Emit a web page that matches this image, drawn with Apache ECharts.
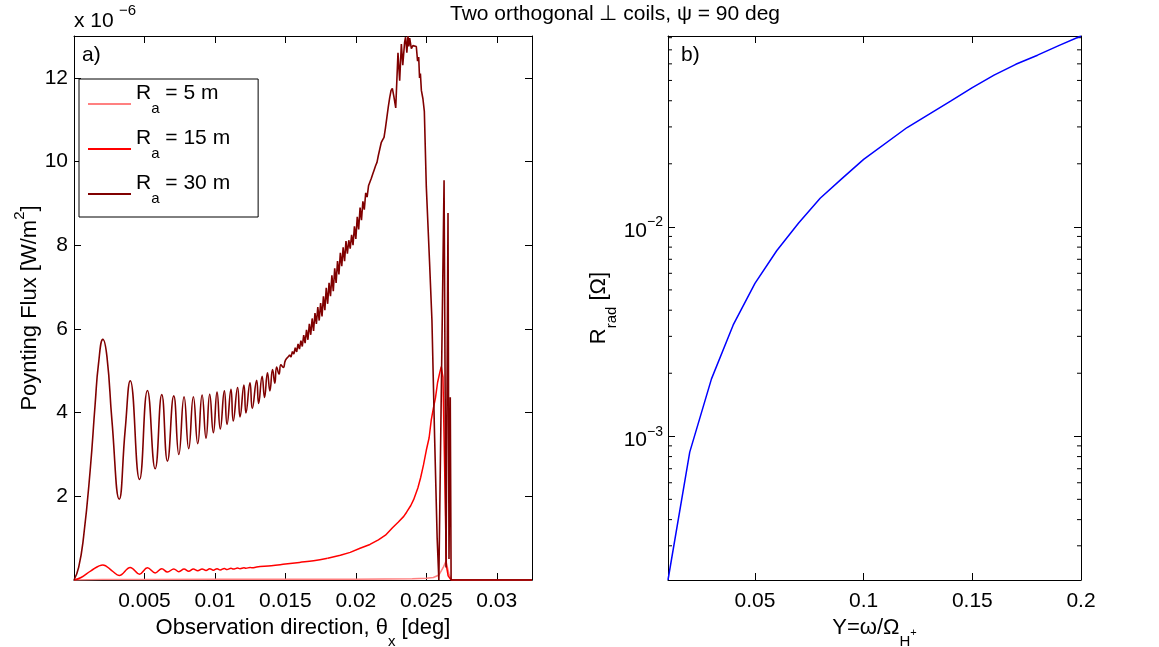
<!DOCTYPE html>
<html><head><meta charset="utf-8">
<script src="https://cdn.jsdelivr.net/npm/echarts@6/dist/echarts.min.js"></script>
<style>html,body{margin:0;padding:0;background:#fff}#c{width:1159px;height:647px}</style>
</head><body><div id="c"></div><script>
const FONT = '"Liberation Sans", Arial, Helvetica, sans-serif';

// ---- panel a) Poynting flux (units of 1e-6 W/m^2) vs observation direction (deg)
const theta30A = [0, 0.00033, 0.00068, 0.00115, 0.0015, 0.00174, 0.00205, 0.00234, 0.00269, 0.00321, 0.00363, 0.00399, 0.00465, 0.00521, 0.00576, 0.00623, 0.00663, 0.00708, 0.00744, 0.00781, 0.00814, 0.00847, 0.00878, 0.00909, 0.00937, 0.00963, 0.00989, 0.01015, 0.01038, 0.01067, 0.01086, 0.01114, 0.0113, 0.01161, 0.01178, 0.01206, 0.0122, 0.01249, 0.01265, 0.01296, 0.0131, 0.01335, 0.01352, 0.01373, 0.0139, 0.01409, 0.01425, 0.01438, 0.01455, 0.01468, 0.01485, 0.015, 0.0152];
const flux30A = [0, 0.3, 1.03, 2.63, 4.2, 5.17, 5.75, 5.33, 3.82, 1.93, 3.58, 4.76, 2.40, 4.53, 2.66, 4.43, 2.84, 4.40, 3.00, 4.38, 3.14, 4.38, 3.26, 4.42, 3.39, 4.44, 3.52, 4.49, 3.61, 4.52, 3.72, 4.56, 3.80, 4.60, 3.90, 4.66, 3.99, 4.71, 4.10, 4.77, 4.22, 4.87, 4.36, 4.95, 4.52, 5.03, 4.70, 5.09, 4.92, 5.14, 5.08, 5.25, 5.33];

const theta30B = [0.0152, 0.0153, 0.0154, 0.0155, 0.0156, 0.0157, 0.0158, 0.0159, 0.0160, 0.0161, 0.0162, 0.0163, 0.0164, 0.0165, 0.0166, 0.0167, 0.0168, 0.0169, 0.0170, 0.0171, 0.0172, 0.0173, 0.0174, 0.0175, 0.0176, 0.0177, 0.0178, 0.0179, 0.0180, 0.0181, 0.0182, 0.0183, 0.0184, 0.0185, 0.0186, 0.0187, 0.0188, 0.0189, 0.0190, 0.0191, 0.0192, 0.0193, 0.0194, 0.0195, 0.0196, 0.0197, 0.0198, 0.0199, 0.0200, 0.0201, 0.0202, 0.0203, 0.0204, 0.0205, 0.0206, 0.0207, 0.0208, 0.0209, 0.0210, 0.0211, 0.0212, 0.0213, 0.0214, 0.0215, 0.0216, 0.0217, 0.0218, 0.0219, 0.0220, 0.0221, 0.0222, 0.0223, 0.0224, 0.0225, 0.02259, 0.0227, 0.02283, 0.02299, 0.02311, 0.02323, 0.02333, 0.02346, 0.02353, 0.02362, 0.0237, 0.02376, 0.02382, 0.02394, 0.02405, 0.02418, 0.02429, 0.02438, 0.02446, 0.02452, 0.02458, 0.02465, 0.02476, 0.02486, 0.025, 0.02523, 0.0254, 0.02559, 0.02577, 0.02589, 0.02626, 0.0264, 0.02654, 0.02661, 0.0267, 0.02676, 0.0325];
const flux30B = [5.33, 5.38, 5.33, 5.46, 5.40, 5.55, 5.45, 5.64, 5.52, 5.72, 5.58, 5.85, 5.66, 5.98, 5.74, 6.12, 5.86, 6.25, 5.95, 6.38, 6.12, 6.52, 6.20, 6.62, 6.30, 6.78, 6.45, 6.98, 6.60, 7.10, 6.78, 7.28, 6.90, 7.45, 7.10, 7.62, 7.30, 7.82, 7.50, 7.95, 7.62, 8.10, 7.80, 8.12, 7.92, 8.25, 8.00, 8.45, 8.15, 8.68, 8.38, 8.90, 8.60, 9.05, 8.85, 9.25, 9.15, 9.42, 9.40, 9.60, 9.70, 9.80, 9.90, 9.98, 10.15, 10.30, 10.45, 10.52, 10.58, 10.80, 11.05, 11.30, 11.52, 11.70, 11.75, 11.55, 11.28, 12.6, 11.93, 12.81, 12.3, 12.85, 12.97, 12.6, 13.0, 12.75, 12.95, 12.7, 12.77, 12.75, 12.75, 12.4, 12.5, 12.0, 12.1, 11.7, 11.5, 11.2, 9.4, 7.6, 6.2, 3.4, 1.0, 0, 9.55, 0.3, 8.77, 0.5, 4.37, 0, 0];

const theta15A = [0, 0.0005, 0.0012, 0.00205, 0.0027, 0.00321, 0.00399, 0.00465, 0.00521, 0.00576, 0.00623, 0.00663, 0.00708, 0.00744, 0.00781, 0.00814, 0.00847, 0.00878, 0.00909, 0.00937, 0.00963, 0.00989, 0.01015, 0.01038, 0.01067, 0.01086, 0.01114, 0.0113, 0.01161, 0.01178, 0.01206, 0.0122, 0.01249, 0.01265, 0.01296, 0.014, 0.015, 0.016, 0.017, 0.018];
const flux15A = [0, 0.06, 0.22, 0.36, 0.22, 0.11, 0.30, 0.14, 0.29, 0.17, 0.27, 0.19, 0.265, 0.20, 0.26, 0.21, 0.26, 0.22, 0.265, 0.23, 0.27, 0.235, 0.27, 0.24, 0.275, 0.25, 0.28, 0.26, 0.285, 0.27, 0.29, 0.28, 0.30, 0.29, 0.31, 0.34, 0.38, 0.42, 0.46, 0.52];
const theta15B = [0.018, 0.0189, 0.0196, 0.0203, 0.021, 0.0216, 0.0221, 0.0226, 0.023, 0.0234, 0.0236, 0.0239, 0.0241, 0.0244, 0.0246, 0.0248, 0.0250, 0.0252, 0.02535, 0.0255, 0.02565, 0.0258, 0.02595, 0.02606, 0.02618, 0.0263, 0.02642, 0.02655, 0.02676, 0.0325];
const flux15B = [0.52, 0.59, 0.66, 0.76, 0.85, 0.96, 1.07, 1.25, 1.38, 1.52, 1.62, 1.78, 1.92, 2.2, 2.45, 2.75, 3.1, 3.4, 3.82, 4.1, 4.35, 4.72, 4.95, 5.1, 4.85, 2.7, 0.35, 0.1, 0, 0];

const theta5 = [0, 0.002, 0.005, 0.01, 0.015, 0.02, 0.022, 0.024, 0.025, 0.0255, 0.0259, 0.0262, 0.0264, 0.0266, 0.0268, 0.0325];
const flux5 = [0, 0.01, 0.01, 0.015, 0.02, 0.02, 0.025, 0.03, 0.04, 0.06, 0.12, 0.3, 0.45, 0.15, 0, 0];

const legendNames = ['R_a = 5 m', 'R_a = 15 m', 'R_a = 30 m'];
const xTicksA = [0.005, 0.01, 0.015, 0.02, 0.025, 0.03];
const yTicksA = [2, 4, 6, 8, 10, 12];

// ---- panel b) radiation resistance vs normalised frequency
const freqY = [0.01, 0.02, 0.03, 0.04, 0.05, 0.06, 0.07, 0.08, 0.09, 0.1, 0.12, 0.14, 0.15, 0.16, 0.17, 0.18, 0.19, 0.2];
const rRad = [2.06e-4, 8.4e-4, 1.88e-3, 3.4e-3, 5.37e-3, 7.69e-3, 1.04e-2, 1.37e-2, 1.70e-2, 2.10e-2, 2.98e-2, 3.98e-2, 4.62e-2, 5.3e-2, 5.97e-2, 6.6e-2, 7.35e-2, 8.15e-2];
const xTicksB = [0.05, 0.1, 0.15, 0.2];
const yTicksB = [0.001, 0.01];
const minorTicksB = [3e-4, 4e-4, 5e-4, 6e-4, 7e-4, 8e-4, 9e-4, 2e-3, 3e-3, 4e-3, 5e-3, 6e-3, 7e-3, 8e-3, 9e-3, 2e-2, 3e-2, 4e-2, 5e-2, 6e-2, 7e-2, 8e-2];

const zip = (a, b) => a.map((v, i) => [v, b[i]]);
const black = '#000';
const C5 = '#ff8080', C15 = '#ff0000', C30 = '#800000', CB = '#0000ff';

const rich = {
  m: {fontSize: 22, fontFamily: FONT, color: black, lineHeight: 25, verticalAlign: 'top'},
  n: {fontSize: 22, fontFamily: FONT, color: black, lineHeight: 25, verticalAlign: 'top', padding: [6, 0, 0, 0]},
  s: {fontSize: 15, fontFamily: FONT, color: black, lineHeight: 15, verticalAlign: 'top', padding: [17, 0, 0, 0]},
  t: {fontSize: 11, fontFamily: FONT, color: black, lineHeight: 11, verticalAlign: 'top', padding: [11, 0, 0, 0]},
  p: {fontSize: 15, fontFamily: FONT, color: black, lineHeight: 15, verticalAlign: 'top'}
};
const tickLabelRich = {
  n: {fontSize: 21, fontFamily: FONT, color: black, lineHeight: 23, verticalAlign: 'top', padding: [5, 0, 0, 0]},
  p: {fontSize: 14, fontFamily: FONT, color: black, lineHeight: 14, verticalAlign: 'top'}
};

const fmt = v => String(parseFloat(Number(v).toFixed(6)));
const axLine = {show: true, onZero: false, lineStyle: {color: black, width: 1}};
const tick = vals => ({show: true, inside: true, length: 7, lineStyle: {color: black, width: 1}, customValues: vals});
const lab = vals => ({show: true, color: black, fontSize: 21, fontFamily: FONT, customValues: vals, formatter: fmt});
const noLab = {show: false};

const chart = echarts.init(document.getElementById('c'), null, {renderer: 'canvas', width: 1159, height: 647});

const option = {
  animation: false,
  backgroundColor: '#fff',
  grid: [
    {left: 74, top: 36, width: 458, height: 544, containLabel: false, outerBoundsMode: 'none'},
    {left: 668, top: 36, width: 413, height: 544, containLabel: false, outerBoundsMode: 'none'}
  ],
  xAxis: [
    {gridIndex: 0, type: 'value', min: 0, max: 0.0325, position: 'bottom', axisLine: axLine,
     axisTick: tick(xTicksA), axisLabel: Object.assign(lab(xTicksA), {margin: 11}), splitLine: {show: false},
     name: '{m|Observation direction, θ}{s|x}{m| [deg]}', nameLocation: 'middle', nameGap: 36,
     nameTextStyle: {rich: rich}},
    {gridIndex: 0, type: 'value', min: 0, max: 0.0325, position: 'top', axisLine: axLine,
     axisTick: tick(xTicksA), axisLabel: noLab, splitLine: {show: false}},
    {gridIndex: 1, type: 'value', min: 0.01, max: 0.2, position: 'bottom', axisLine: axLine,
     axisTick: tick(xTicksB), axisLabel: Object.assign(lab(xTicksB), {margin: 11}), splitLine: {show: false},
     name: '{m|Y=ω/Ω}{s|H}{t|+}', nameLocation: 'middle', nameGap: 31,
     nameTextStyle: {rich: rich}},
    {gridIndex: 1, type: 'value', min: 0.01, max: 0.2, position: 'top', axisLine: axLine,
     axisTick: tick(xTicksB), axisLabel: noLab, splitLine: {show: false}}
  ],
  yAxis: [
    {gridIndex: 0, type: 'value', min: 0, max: 13, position: 'left', axisLine: axLine,
     axisTick: tick(yTicksA), axisLabel: Object.assign(lab(yTicksA), {margin: 6}), splitLine: {show: false},
     name: '{n|Poynting Flux [W/m}{p|2}{n|]}', nameLocation: 'middle', nameGap: 33, nameRotate: 90,
     nameTextStyle: {rich: rich}},
    {gridIndex: 0, type: 'value', min: 0, max: 13, position: 'right', axisLine: axLine,
     axisTick: tick(yTicksA), axisLabel: noLab, splitLine: {show: false}},
    {gridIndex: 1, type: 'log', logBase: 10, min: 2.06e-4, max: 8.15e-2, position: 'left', axisLine: axLine,
     axisTick: tick(yTicksB),
     axisLabel: {show: true, margin: 5, customValues: yTicksB, rich: tickLabelRich,
       formatter: v => '{n|10}{p|−' + Math.round(-Math.log10(v)) + '}'},
     splitLine: {show: false},
     name: '{m|R}{s|rad}{m| [Ω]}', nameLocation: 'middle', nameGap: 52, nameRotate: 90,
     nameTextStyle: {rich: rich}},
    {gridIndex: 1, type: 'log', logBase: 10, min: 2.06e-4, max: 8.15e-2, position: 'right', axisLine: axLine,
     axisTick: tick(yTicksB), axisLabel: noLab, splitLine: {show: false}}
  ],
  legend: {
    show: true, orient: 'vertical', left: 79, top: 79,
    data: legendNames,
    icon: 'path://M0,0L0,0M0,20L43,20L43,22L0,22Z', itemWidth: 43, itemHeight: 22, itemGap: 2,
    padding: [4, 28, 1, 9],
    borderColor: black, borderWidth: 1, backgroundColor: '#fff',
    selectedMode: false,
    formatter: name => '{m|R}{s|a}{m| = ' + name.split('= ')[1] + '}',
    textStyle: {rich: {
      m: {fontSize: 21, fontFamily: FONT, color: black, lineHeight: 22, verticalAlign: 'top'},
      s: {fontSize: 15, fontFamily: FONT, color: black, lineHeight: 15, verticalAlign: 'top', padding: [18, 0, 10, 0]}
    }}
  },
  graphic: [
    {type: 'text', x: 615, y: 14, style: {text: 'Two orthogonal ⊥ coils, ψ = 90 deg', fontSize: 21, fontFamily: FONT, fill: black, align: 'center', verticalAlign: 'middle'}},
    {type: 'text', x: 74, y: 21, style: {text: 'x 10', fontSize: 21, fontFamily: FONT, fill: black, align: 'left', verticalAlign: 'middle'}},
    {type: 'text', x: 119, y: 11, style: {text: '−6', fontSize: 15, fontFamily: FONT, fill: black, align: 'left', verticalAlign: 'middle'}},
    {type: 'text', x: 82, y: 55, style: {text: 'a)', fontSize: 21, fontFamily: FONT, fill: black, align: 'left', verticalAlign: 'middle'}},
    {type: 'text', x: 681, y: 55, style: {text: 'b)', fontSize: 21, fontFamily: FONT, fill: black, align: 'left', verticalAlign: 'middle'}}
  ],
  series: [
    {name: legendNames[0], type: 'line', xAxisIndex: 0, yAxisIndex: 0, data: zip(theta5, flux5),
     showSymbol: false, symbol: 'none', lineStyle: {color: C5, width: 1.5}, itemStyle: {color: C5}, z: 2},
    {name: legendNames[1], type: 'line', xAxisIndex: 0, yAxisIndex: 0, data: zip(theta15A, flux15A), smooth: 0.4,
     showSymbol: false, symbol: 'none', lineStyle: {color: C15, width: 1.5}, itemStyle: {color: C15}, z: 3},
    {name: legendNames[1], type: 'line', xAxisIndex: 0, yAxisIndex: 0, data: zip(theta15B, flux15B),
     showSymbol: false, symbol: 'none', lineStyle: {color: C15, width: 1.5}, itemStyle: {color: C15}, z: 3},
    {name: legendNames[2], type: 'line', xAxisIndex: 0, yAxisIndex: 0, data: zip(theta30A, flux30A), smooth: 0.5,
     showSymbol: false, symbol: 'none', lineStyle: {color: C30, width: 1.6}, itemStyle: {color: C30}, z: 4},
    {name: legendNames[2], type: 'line', xAxisIndex: 0, yAxisIndex: 0, data: zip(theta30B, flux30B),
     showSymbol: false, symbol: 'none', lineStyle: {color: C30, width: 1.6}, itemStyle: {color: C30}, z: 4},
    {name: 'Rrad', type: 'line', xAxisIndex: 2, yAxisIndex: 2, data: zip(freqY, rRad),
     showSymbol: false, symbol: 'none', lineStyle: {color: CB, width: 1.5}, itemStyle: {color: CB}, z: 4},
    {name: 'minorTicks', type: 'custom', xAxisIndex: 2, yAxisIndex: 2, silent: true, clip: false,
     data: minorTicksB.map(v => [0.01, v]),
     renderItem: (params, api) => {
       const v = api.value(1);
       const a = api.coord([0.01, v]);
       const b = api.coord([0.2, v]);
       return {type: 'group', children: [
         {type: 'line', shape: {x1: a[0], y1: a[1], x2: a[0] + 4, y2: a[1]}, style: {stroke: black, lineWidth: 1}},
         {type: 'line', shape: {x1: b[0] - 4, y1: b[1], x2: b[0], y2: b[1]}, style: {stroke: black, lineWidth: 1}}
       ]};
     }}
  ]
};
chart.setOption(option);
</script></body></html>
